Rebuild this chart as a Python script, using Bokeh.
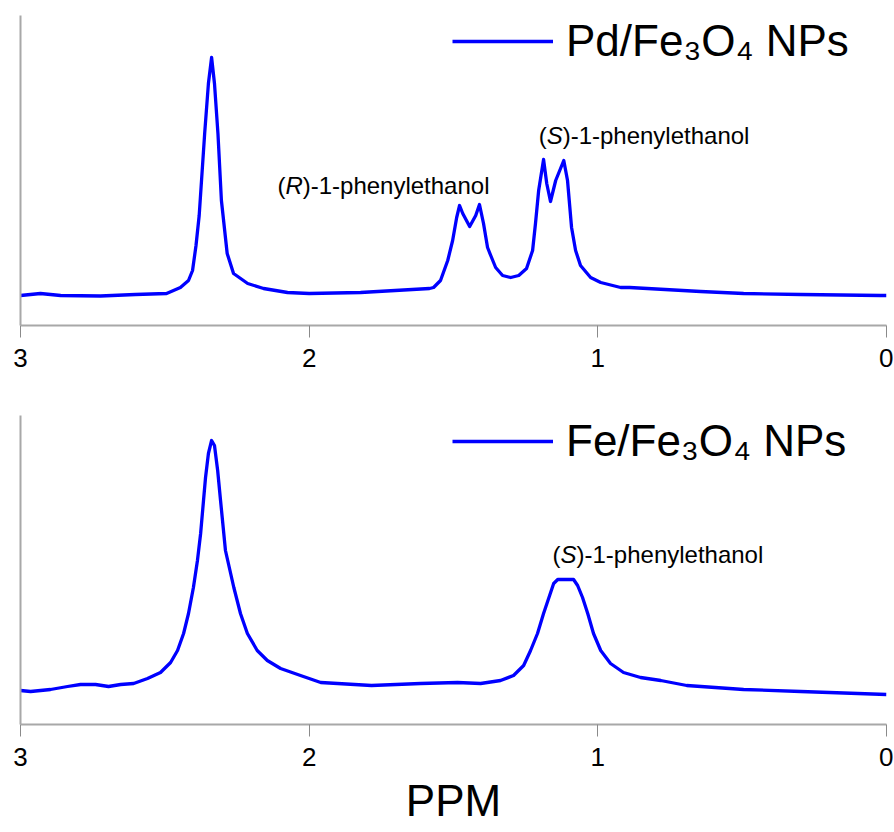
from bokeh.plotting import figure
from bokeh.layouts import column
from bokeh.models import Range1d, FixedTicker, Label, Legend, LegendItem, ColumnDataSource
from bokeh.embed import file_html
from bokeh.resources import INLINE

# ---------------- data ----------------
ppm_top = [3.000, 2.931, 2.861, 2.723, 2.602, 2.494, 2.446, 2.418, 2.404, 2.392, 2.381,
           2.362, 2.349, 2.338, 2.328, 2.316, 2.304, 2.284, 2.262, 2.213, 2.158, 2.075,
           2.000, 1.822, 1.583, 1.569, 1.545, 1.520, 1.503, 1.489, 1.479, 1.468, 1.444,
           1.423, 1.410, 1.396, 1.382, 1.371, 1.354, 1.330, 1.302, 1.274, 1.247, 1.226,
           1.216, 1.205, 1.188, 1.177, 1.164, 1.146, 1.118, 1.105, 1.091, 1.077, 1.060,
           1.025, 0.990, 0.921, 0.890, 0.644, 0.495, 0.297, 0.020, 0.000]
int_top = [30, 32, 30, 29.5, 31, 32, 38, 45, 55, 80, 110,
           192, 242, 268, 242, 192, 125, 72, 52, 42, 37, 33,
           32, 33, 37, 38, 45, 65, 85, 108, 120, 112, 99,
           110, 121, 102, 78, 70, 58, 50, 48, 50, 57, 75,
           102, 135, 166, 142, 124, 145, 165, 145, 98, 75, 60,
           48, 43, 38, 38, 34, 32, 31, 30, 30]

ppm_bot = [3.000, 2.965, 2.896, 2.837, 2.792, 2.740, 2.695, 2.653, 2.608, 2.560, 2.515,
           2.480, 2.456, 2.435, 2.418, 2.401, 2.387, 2.376, 2.366, 2.359, 2.349, 2.338,
           2.328, 2.317, 2.307, 2.290, 2.261, 2.238, 2.214, 2.180, 2.145, 2.099, 2.030,
           1.960, 1.784, 1.614, 1.486, 1.406, 1.337, 1.292, 1.257, 1.233, 1.209, 1.188,
           1.167, 1.153, 1.139, 1.112, 1.084, 1.070, 1.053, 1.035, 1.015, 0.990, 0.956,
           0.911, 0.852, 0.782, 0.692, 0.495, 0.297, 0.000]
int_bot = [34, 33, 35, 38, 40, 40, 38, 40, 41, 46, 52,
           62, 74, 91, 111, 137, 164, 191, 224, 247, 271, 284,
           279, 254, 224, 174, 137, 111, 91, 74, 64, 56, 49,
           42, 39, 41, 42, 41, 44, 49, 59, 74, 91, 111,
           129, 141, 145, 145, 145, 139, 127, 111, 91, 74, 61,
           52, 47, 44, 39, 35, 33, 30]

x_ticks = [3, 2, 1, 0]
legend_top = "Pd/Fe\u2083O\u2084 NPs"
legend_bot = "Fe/Fe\u2083O\u2084 NPs"
x_label = "PPM"

# annotation anchors (ppm, intensity)
ann_R = (2.110, 140)
ann_S_top = (1.205, 190)
ann_S_bot = (1.157, 170)

FONT = "Liberation Sans"
BLUE = "#0000ff"
AXIS_GRAY = "#a8a8a8"
FIG_W = 893


def make_panel(ppm, inten, label, height, top_border, frame_h, y_max, show_xlabel):
    p = figure(width=FIG_W, height=height, output_backend="svg", toolbar_location=None,
               x_range=Range1d(3, 0), y_range=Range1d(0, y_max),
               min_border_left=20, min_border_right=7, min_border_top=top_border,
               min_border_bottom=height - top_border - frame_h)
    p.outline_line_color = None
    p.xgrid.visible = False
    p.ygrid.visible = False
    p.background_fill_color = "white"

    src = ColumnDataSource(dict(x=ppm, y=inten))
    r = p.line("x", "y", source=src, line_color=BLUE, line_width=3.3, line_join="round")

    xa = p.xaxis[0]
    xa.ticker = FixedTicker(ticks=x_ticks)
    xa.major_tick_in = 0
    xa.major_tick_out = 12
    xa.major_tick_line_color = "#8a8a8a"
    xa.major_tick_line_width = 1
    xa.minor_tick_line_color = None
    xa.axis_line_color = AXIS_GRAY
    xa.axis_line_width = 2
    xa.major_label_text_font = FONT
    xa.major_label_text_font_size = "26px"
    xa.major_label_text_color = "black"
    xa.major_label_standoff = 11
    if show_xlabel:
        xa.axis_label = x_label
        xa.axis_label_text_font = FONT
        xa.axis_label_text_font_size = "44px"
        xa.axis_label_text_font_style = "normal"
        xa.axis_label_text_color = "black"
        xa.axis_label_standoff = 7

    ya = p.yaxis[0]
    ya.ticker = FixedTicker(ticks=[])
    ya.major_tick_line_color = None
    ya.minor_tick_line_color = None
    ya.major_label_text_font_size = "0px"
    ya.axis_line_color = AXIS_GRAY
    ya.axis_line_width = 2

    leg = Legend(items=[LegendItem(label=label, renderers=[r])],
                 location=(432, frame_h - 51),
                 padding=0, margin=0, spacing=0,
                 glyph_width=101, glyph_height=20, label_standoff=13,
                 label_text_font=FONT, label_text_font_size="44px",
                 label_text_color="black",
                 border_line_color=None, background_fill_alpha=0)
    p.add_layout(leg)
    return p


def add_annotation(p, anchor, letter, size="24px"):
    x, y = anchor
    common = dict(x=x, y=y, text_font=FONT, text_font_size=size, text_color="black",
                  text_baseline="alphabetic", text_align="left")
    p.add_layout(Label(text="(", x_offset=0, **common))
    p.add_layout(Label(text=letter, x_offset=8, text_font_style="italic", **common))
    w = 17.3 if letter == "R" else 16.0
    p.add_layout(Label(text=")-1-phenylethanol", x_offset=8 + w, **common))


top = make_panel(ppm_top, int_top, legend_top, height=394, top_border=15, frame_h=310,
                 y_max=310, show_xlabel=False)
add_annotation(top, ann_R, "R")
add_annotation(top, ann_S_top, "S")

bot = make_panel(ppm_bot, int_bot, legend_bot, height=437, top_border=21, frame_h=309,
                 y_max=309, show_xlabel=True)
add_annotation(bot, ann_S_bot, "S")

page = column(top, bot, spacing=0)
open("out.html", "w").write(file_html(page, INLINE))
